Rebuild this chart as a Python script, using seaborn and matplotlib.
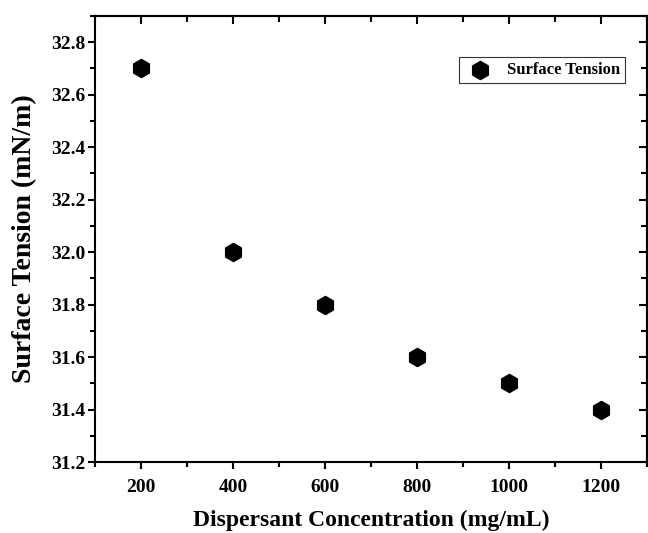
import seaborn as sns
import matplotlib.pyplot as plt
import pandas as pd
from matplotlib.ticker import MultipleLocator

# Tension superficielle vs concentration de dispersant
concentration = [200, 400, 600, 800, 1000, 1200]
tension = [32.7, 32.0, 31.8, 31.6, 31.5, 31.4]
yticks = [31.2, 31.4, 31.6, 31.8, 32.0, 32.2, 32.4, 32.6, 32.8]

df = pd.DataFrame({"Concentration": concentration, "Tension": tension})

sns.set_style("ticks")
plt.rcParams["font.family"] = ["Liberation Serif", "DejaVu Serif"]
plt.rcParams["font.weight"] = "bold"
plt.rcParams["text.color"] = "black"
plt.rcParams["axes.labelcolor"] = "black"

fig = plt.figure(figsize=(6.48, 5.33), dpi=100)
ax = fig.add_axes([0.1466, 0.1332, 0.852, 0.837])

sns.scatterplot(data=df, x="Concentration", y="Tension", marker="h", s=170,
                color="black", edgecolor="black", label="Surface Tension", ax=ax)

ax.set_xlim(100, 1300)
ax.set_ylim(31.2, 32.9)
ax.xaxis.set_major_locator(MultipleLocator(200))
ax.xaxis.set_minor_locator(MultipleLocator(100))
ax.set_yticks(yticks)
ax.yaxis.set_minor_locator(MultipleLocator(0.1))
ax.yaxis.set_major_formatter(plt.FormatStrFormatter("%.1f"))

for s in ax.spines.values():
    s.set_linewidth(1.5)
    s.set_color("black")

ax.tick_params(which="major", length=5, width=1.5, labelsize=14, colors="black")
ax.tick_params(which="minor", length=3.5, width=1.5, colors="black")
ax.tick_params(axis="x", which="both", direction="out", bottom=True, top=False)
ax.tick_params(axis="x", which="major", pad=7)
ax.tick_params(axis="y", which="both", direction="out", left=True, right=False)
ax.tick_params(axis="y", which="major", pad=2)

# ticks internes sur les axes du haut et de droite
ax_top = ax.secondary_xaxis("top")
ax_top.xaxis.set_major_locator(MultipleLocator(200))
ax_top.xaxis.set_minor_locator(MultipleLocator(100))
ax_top.tick_params(which="both", direction="in", width=1.5, labeltop=False, colors="black")
ax_top.tick_params(which="major", length=6)
ax_top.tick_params(which="minor", length=4)
ax_top.spines["top"].set_linewidth(1.5)
ax_right = ax.secondary_yaxis("right")
ax_right.set_yticks(yticks)
ax_right.yaxis.set_minor_locator(MultipleLocator(0.1))
ax_right.tick_params(which="both", direction="in", width=1.5, labelright=False, colors="black")
ax_right.tick_params(which="major", length=6)
ax_right.tick_params(which="minor", length=4)
ax_right.spines["right"].set_linewidth(1.5)

for lbl in ax.get_xticklabels() + ax.get_yticklabels():
    lbl.set_fontweight("bold")

ax.set_xlabel("Dispersant Concentration (mg/mL)", fontsize=17, fontweight="bold",
              color="black", labelpad=10)
ax.set_ylabel("Surface Tension (mN/m)", fontsize=20, fontweight="bold",
              color="black", labelpad=10)

leg = ax.legend(loc="upper right", bbox_to_anchor=(0.96, 0.908), fancybox=False,
                frameon=True, edgecolor="black", prop={"size": 12, "weight": "bold"},
                handletextpad=0.6, borderpad=0.3, borderaxespad=0)
leg.get_frame().set_linewidth(0.8)

fig.savefig("out.png", dpi=100)
